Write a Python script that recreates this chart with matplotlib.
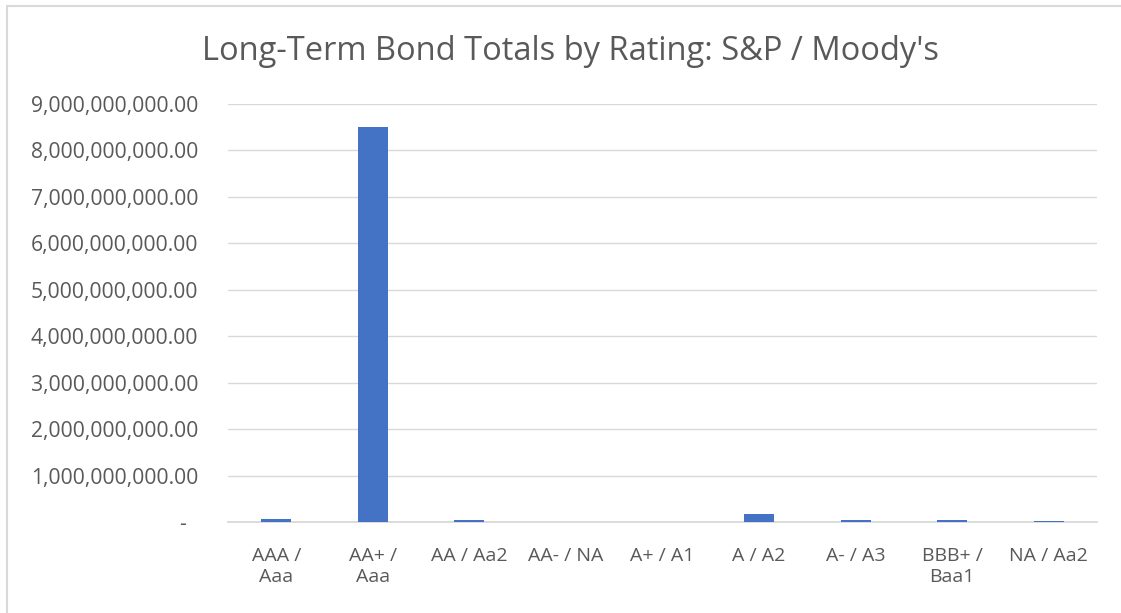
import matplotlib
matplotlib.use("Agg")
import matplotlib.pyplot as plt
from matplotlib.ticker import FuncFormatter, MultipleLocator
from matplotlib.patches import Rectangle

categories = ["AAA /\nAaa", "AA+ /\nAaa", "AA / Aa2", "AA- / NA", "A+ / A1",
              "A / A2", "A- / A3", "BBB+ /\nBaa1", "NA / Aa2"]
values = [0.06e9, 8.51e9, 0.04e9, 0.005e9, 0.01e9, 0.17e9, 0.04e9, 0.05e9, 0.02e9]
title = "Long-Term Bond Totals by Rating: S&P / Moody's"

W, H = 1121, 613
fig = plt.figure(figsize=(W / 100, H / 100), dpi=100)
plt.rcParams['font.family'] = ['Open Sans', 'DejaVu Sans']

# outer chart border (only left/top visible)
fig.patches.append(Rectangle((7 / W, -0.1), 1.2, (H - 6) / H + 0.1, transform=fig.transFigure,
                             fill=False, edgecolor='#d9d9d9', linewidth=1.5))

left, right, top, bottom = 228, 1097, 104, 522
ax = fig.add_axes([left / W, 1 - bottom / H, (right - left) / W, (bottom - top) / H])

x = range(len(categories))
ax.bar(x, values, width=0.313, color='#4472C4', zorder=3)
ax.set_xlim(-0.5, len(categories) - 0.5)
ax.set_ylim(0, 9e9)
ax.yaxis.set_major_locator(MultipleLocator(1e9))
ax.yaxis.set_major_formatter(FuncFormatter(lambda v, p: '-  ' if v == 0 else f"{v:,.2f}"))
ax.set_xticks(list(x))
ax.set_xticklabels(categories, linespacing=1.2)
ax.grid(axis='y', color='#d9d9d9', linewidth=1, zorder=0)
for s in ['top', 'right', 'left']:
    ax.spines[s].set_visible(False)
ax.spines['bottom'].set_color('#d9d9d9')
ax.spines['bottom'].set_linewidth(1.3)
ax.tick_params(axis='both', length=0, colors='#595959')
ax.tick_params(axis='y', pad=21.5, labelsize=15.2)
ax.tick_params(axis='x', pad=18, labelsize=14)
for lbl in ax.get_xticklabels() + ax.get_yticklabels():
    lbl.set_color('#595959')

fig.text(0.5 + 10 / W, 1 - 52 / H, title, ha='center', va='center', fontsize=23.5, color='#595959')

fig.savefig("out.png", dpi=100, facecolor='white')
